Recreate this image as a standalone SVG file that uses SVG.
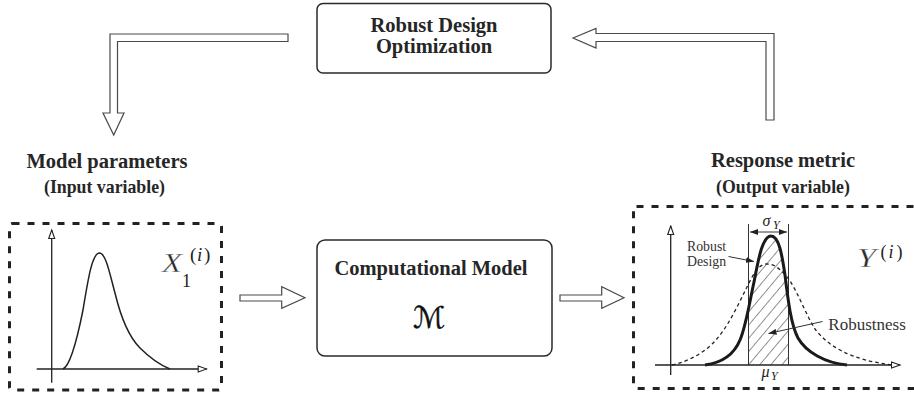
<svg xmlns="http://www.w3.org/2000/svg" width="914" height="396" viewBox="0 0 914 396">
<style>
.bold{font-family:"Liberation Serif","Times New Roman",serif;font-weight:bold;fill:#262626;text-anchor:middle}
.reg{font-family:"Liberation Serif","Times New Roman",serif;fill:#333}
.math{font-family:"Liberation Serif","Times New Roman",serif;font-style:italic;fill:#222}
.mathr{font-family:"Liberation Serif","Times New Roman",serif;fill:#222}
.big{fill:#2a2a2a;stroke:#fff;stroke-width:0.35}
.box{fill:#fff;stroke:#2a2a2a;stroke-width:1.5}
.dbox{fill:none;stroke:#222;stroke-width:3;stroke-dasharray:7 8}
.block{fill:#fff;stroke:#4a4a4a;stroke-width:1.2;stroke-linejoin:miter}
.axis{stroke:#222;stroke-width:1.3;fill:none}
.thin{stroke:#333;stroke-width:1;fill:none}
</style>
<defs>
<marker id="ax" markerWidth="11" markerHeight="8" refX="9.5" refY="4" orient="auto" markerUnits="userSpaceOnUse"><path d="M1,1 L9.5,4 L1,7 Z" fill="#fff" stroke="#222" stroke-width="1.1"/></marker>
<marker id="fa" markerWidth="9" markerHeight="6" refX="8" refY="3" orient="auto-start-reverse" markerUnits="userSpaceOnUse"><path d="M0,0 L8,3 L0,6 Z" fill="#222"/></marker>
<pattern id="hatch" patternUnits="userSpaceOnUse" width="8.5" height="8.5" patternTransform="rotate(40)"><line x1="0" y1="0" x2="0" y2="8.5" stroke="#222" stroke-width="1"/></pattern>
<clipPath id="under"><path d="M705,365 C720,363 733,357 740,340 C746,326 750,300 754,282 C758,262 762,236 771,236 C779,236 782,255 785,275 C788,300 791,325 798,338 C806,352 825,363 847,365 Z"/></clipPath>
</defs>

<g id="connectors">
<polygon class="block" points="288,34 110,34 110,113 103,113 113.7,135 124,113 117.5,113 117.5,41.5 288,41.5"/>
<polygon class="block" points="573,38 596,28.5 596,33.5 774,33.5 774,120 766,120 766,41.5 596,41.5 596,48"/>
<polygon class="block" points="240,295 281.7,295 281.7,286.7 305,297.7 281.7,308.3 281.7,301 240,301"/>
<polygon class="block" points="560,295 601.7,295 601.7,286.7 624,297.7 601.7,308.3 601.7,301 560,301"/>
</g>

<g id="rdo">
<rect class="box" x="317" y="3.5" width="234" height="69.5" rx="6"/>
<text class="bold" x="434" y="32" font-size="20.5">Robust Design</text>
<text class="bold" x="434" y="53" font-size="20.5">Optimization</text>
</g>

<g id="model">
<rect class="box" x="317" y="240" width="235" height="116" rx="8"/>
<text class="bold" x="431" y="275" font-size="20.5">Computational Model</text>
<text x="429" y="328" font-size="30" text-anchor="middle" style="font-family:'DejaVu Serif','DejaVu Sans',serif;fill:#111;stroke:#111;stroke-width:0.4">ℳ</text>
</g>

<g id="input">
<text class="bold" x="107" y="168" font-size="20.5">Model parameters</text>
<text class="bold" x="104.5" y="193" font-size="17.8">(Input variable)</text>
<rect class="dbox" x="9.5" y="223.5" width="212" height="166.5" rx="3"/>
<line class="axis" x1="51.7" y1="382.7" x2="51.7" y2="230" marker-end="url(#ax)"/>
<line class="axis" x1="36.7" y1="369" x2="206.7" y2="369" marker-end="url(#ax)"/>
<path d="M63,369 C70,366 77,340 83,310 C88,280 92,253 99.5,253 C106,253 110,275 115,293 C121,318 128,336 140,348 C150,358 160,365 170,369" fill="none" stroke="#222" stroke-width="1.5"/>
<text class="math big" x="162" y="271.7" font-size="26.5" textLength="20" lengthAdjust="spacingAndGlyphs">X</text>
<text class="mathr" x="182" y="286.5" font-size="18">1</text>
<text font-size="19"><tspan class="mathr" x="190" y="261">(</tspan><tspan class="math" x="197" y="261">i</tspan><tspan class="mathr" x="204" y="261">)</tspan></text>
</g>

<g id="output">
<text class="bold" x="783" y="166.7" font-size="20.5">Response metric</text>
<text class="bold" x="783" y="192.7" font-size="17.8">(Output variable)</text>
<rect class="dbox" x="633.5" y="206.5" width="300" height="182" rx="3"/>
<rect x="748.5" y="220" width="40" height="146" fill="url(#hatch)" clip-path="url(#under)"/>
<line class="thin" x1="748.5" y1="224" x2="748.5" y2="365"/>
<line class="thin" x1="788.5" y1="224" x2="788.5" y2="365"/>
<line class="thin" x1="750" y1="232" x2="787" y2="232" marker-start="url(#fa)" marker-end="url(#fa)"/>
<path d="M672,365 C690,361 705,352 715,341 C728,327 738,305 747,287 C753,275 758,264 767,264 C775,264 781,270 788,278 C798,292 806,315 815,329 C828,346 850,360 893,365" fill="none" stroke="#222" stroke-width="1.3" stroke-dasharray="3.5 3"/>
<path d="M705,365 C720,363 733,357 740,340 C746,326 750,300 754,282 C758,262 762,236 771,236 C779,236 782,255 785,275 C788,300 791,325 798,338 C806,352 825,363 847,365" fill="none" stroke="#1a1a1a" stroke-width="3"/>
<line class="axis" x1="670.7" y1="375" x2="670.7" y2="226" marker-end="url(#ax)"/>
<line class="axis" x1="655" y1="365" x2="900" y2="365" marker-end="url(#ax)"/>
<text class="math" x="762.5" y="226" font-size="16">σ</text>
<text class="math" x="773" y="229" font-size="12">Y</text>
<text class="math" x="761.5" y="377" font-size="16">μ</text>
<text class="math" x="771" y="380" font-size="12">Y</text>
<text class="reg" x="687" y="250.7" font-size="13.8">Robust</text>
<text class="reg" x="687" y="266" font-size="13.8">Design</text>
<line class="thin" x1="728.5" y1="256.5" x2="754" y2="261.5" marker-end="url(#fa)"/>
<text class="reg" x="828.3" y="330" font-size="17">Robustness</text>
<line class="thin" x1="822.5" y1="321.5" x2="768.5" y2="333.5" marker-end="url(#fa)"/>
<text class="math big" x="857" y="266.7" font-size="26.5" textLength="19" lengthAdjust="spacingAndGlyphs">Y</text>
<text font-size="18"><tspan class="mathr" x="880.5" y="258">(</tspan><tspan class="math" x="888.5" y="258">i</tspan><tspan class="mathr" x="896.5" y="258">)</tspan></text>
</g>
</svg>
